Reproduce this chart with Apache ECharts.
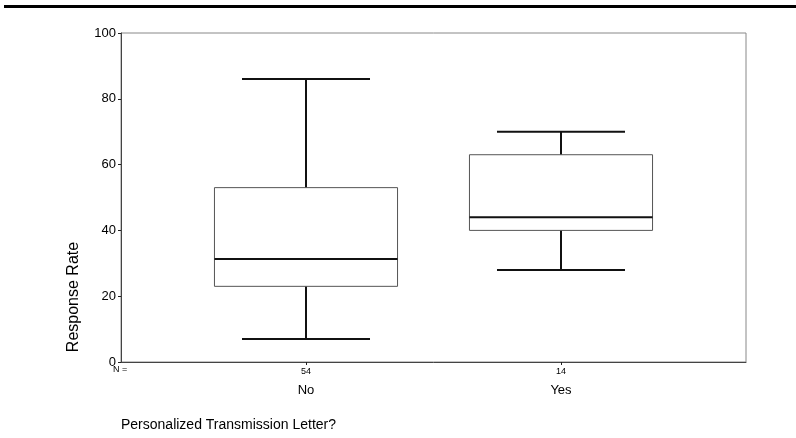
<!DOCTYPE html>
<html>
<head>
<meta charset="utf-8">
<script src="https://cdn.jsdelivr.net/npm/echarts@6/dist/echarts.min.js"></script>
<style>
  html, body { margin: 0; padding: 0; background: #fff; }
  #chart { width: 796px; height: 438px; }
</style>
</head>
<body>
<div id="chart"></div>
<script>
// Response rate by whether a personalized transmission letter was sent
const categories = ['No', 'Yes'];
const counts = [54, 14];
// five-number summaries: [min, q1, median, q3, max]
const whiskerLow = [7, 28];
const quartile1 = [23, 40];
const medians = [31.3, 44];
const quartile3 = [53, 63];
const whiskerHigh = [86, 70];
const yTicks = [0, 20, 40, 60, 80, 100];

const FONT = 'Liberation Sans, Arial, sans-serif';

const boxData = categories.map((c, i) => [
  i + 1, whiskerLow[i], quartile1[i], medians[i], quartile3[i], whiskerHigh[i]
]);

function renderBox(params, api) {
  const x = api.value(0);
  const lo = api.coord([x, api.value(1)]);
  const q1 = api.coord([x, api.value(2)]);
  const md = api.coord([x, api.value(3)]);
  const q3 = api.coord([x, api.value(4)]);
  const hi = api.coord([x, api.value(5)]);
  const band = api.size([1, 0])[0];
  const boxW = band * 0.718;
  const capW = band * 0.502;
  const cx = lo[0];
  const dark = { stroke: '#111', lineWidth: 2 };
  return {
    type: 'group',
    children: [
      { type: 'line', shape: { x1: cx, y1: q3[1], x2: cx, y2: hi[1] }, style: dark },
      { type: 'line', shape: { x1: cx, y1: lo[1], x2: cx, y2: q1[1] }, style: dark },
      { type: 'line', shape: { x1: cx - capW / 2, y1: hi[1], x2: cx + capW / 2, y2: hi[1] }, style: dark },
      { type: 'line', shape: { x1: cx - capW / 2, y1: lo[1], x2: cx + capW / 2, y2: lo[1] }, style: dark },
      { type: 'rect', shape: { x: cx - boxW / 2, y: q3[1], width: boxW, height: q1[1] - q3[1] },
        style: { fill: 'none', stroke: '#555', lineWidth: 1 } },
      { type: 'line', shape: { x1: cx - boxW / 2, y1: md[1], x2: cx + boxW / 2, y2: md[1] }, style: dark }
    ]
  };
}

const chart = echarts.init(document.getElementById('chart'), null, { renderer: 'canvas' });
chart.setOption({
  animation: false,
  backgroundColor: '#fff',
  grid: {
    left: 121, right: 50, top: 33, bottom: 76,
    show: true, borderColor: '#888', borderWidth: 1
  },
  xAxis: {
    type: 'value',
    min: 0.2745, max: 2.7255,
    splitLine: { show: false },
    axisLine: { show: true, onZero: false, lineStyle: { color: '#444', width: 1 } },
    axisTick: { show: true, customValues: [1, 2], length: 3, lineStyle: { color: '#222' } },
    axisLabel: {
      customValues: [1, 2],
      margin: 3,
      fontFamily: FONT,
      formatter: v => {
        const i = Math.round(v) - 1;
        return '{n|' + counts[i] + '}\n{c|' + categories[i] + '}';
      },
      rich: {
        n: { fontSize: 9, lineHeight: 13, color: '#000', fontFamily: FONT },
        c: { fontSize: 13, lineHeight: 24, color: '#000', fontFamily: FONT }
      }
    }
  },
  yAxis: {
    type: 'value',
    min: 0, max: 100, interval: 20,
    splitLine: { show: false },
    axisLine: { show: true, lineStyle: { color: '#444', width: 1 } },
    axisTick: { show: true, length: 3, lineStyle: { color: '#222' } },
    axisLabel: {
      margin: 5, fontSize: 13, color: '#000', fontFamily: FONT,
      formatter: v => (yTicks.includes(v) ? String(v) : '')
    }
  },
  series: [{
    type: 'custom',
    renderItem: renderBox,
    data: boxData,
    encode: { x: 0, y: [1, 2, 3, 4, 5] }
  }],
  graphic: [
    { type: 'rect', shape: { x: 4, y: 5, width: 792, height: 3 }, style: { fill: '#000' } },
    {
      type: 'text', x: 74, y: 297, rotation: Math.PI / 2,
      style: { text: 'Response Rate', font: '16px ' + FONT, fill: '#000', align: 'center', verticalAlign: 'middle' }
    },
    {
      type: 'text', x: 113, y: 370,
      style: { text: 'N =', font: '9px ' + FONT, fill: '#000', align: 'left', verticalAlign: 'middle' }
    },
    {
      type: 'text', x: 121, y: 425,
      style: { text: 'Personalized Transmission Letter?', font: '14px ' + FONT, fill: '#000', align: 'left', verticalAlign: 'middle' }
    }
  ]
});
</script>
</body>
</html>
